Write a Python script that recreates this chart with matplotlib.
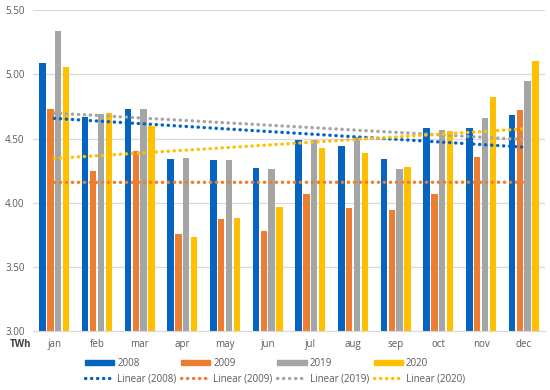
import numpy as np
import matplotlib
matplotlib.use('Agg')
import matplotlib.pyplot as plt
from matplotlib.lines import Line2D
from matplotlib.patches import Patch

# monthly values, TWh
months = ['jan', 'feb', 'mar', 'apr', 'may', 'jun', 'jul', 'aug', 'sep', 'oct', 'nov', 'dec']
y2008 = [5.09, 4.67, 4.73, 4.34, 4.33, 4.27, 4.49, 4.44, 4.34, 4.58, 4.58, 4.68]
y2009 = [4.73, 4.25, 4.40, 3.76, 3.87, 3.78, 4.07, 3.96, 3.94, 4.07, 4.36, 4.72]
y2019 = [5.34, 4.69, 4.73, 4.35, 4.33, 4.26, 4.49, 4.51, 4.26, 4.57, 4.66, 4.95]
y2020 = [5.06, 4.70, 4.60, 3.73, 3.88, 3.97, 4.43, 4.39, 4.28, 4.56, 4.82, 5.10]
years = ['2008', '2009', '2019', '2020']

plt.rcParams['font.family'] = ['Open Sans', 'DejaVu Sans']
colors = ['#0563C1', '#ED7D31', '#A5A5A5', '#FFC000']
series = [y2008, y2009, y2019, y2020]

fig = plt.figure(figsize=(5.5, 3.9), dpi=100)
ax = fig.add_axes([0.06, 0.151, 0.931, 0.823])

x = np.arange(len(months))
step = 0.183
width = 0.15
for i, (vals, c) in enumerate(zip(series, colors)):
    ax.bar(x + (i - 1.5) * step, vals, width=width, color=c, zorder=2)

# linear trend lines
dots = (0, (0.1, 1.7))
for vals, c in zip(series, colors):
    k, b = np.polyfit(x, vals, 1)
    ax.plot(x, k * x + b, color=c, lw=2.4, linestyle=dots,
            dash_capstyle='round', zorder=3)

ax.set_ylim(3.0, 5.5)
ax.set_xlim(-0.5, 11.5)
ax.set_yticks(np.arange(3.0, 5.51, 0.5))
ax.yaxis.set_major_formatter(matplotlib.ticker.FormatStrFormatter('%.2f'))
ax.set_xticks(x)
ax.set_xticklabels(months)
ax.tick_params(length=0, labelsize=7, colors='#595959', pad=6)
ax.grid(axis='y', color='#D9D9D9', lw=0.9, zorder=0)
for s in ['top', 'right', 'left']:
    ax.spines[s].set_visible(False)
ax.spines['bottom'].set_color('#D9D9D9')

fig.text(0.018, 0.11, 'TWh', fontsize=7, fontweight='bold', color='#404040')

handles = []
labels = []
for y, c in zip(years, colors):
    handles.append(Patch(color=c))
    labels.append(y)
    handles.append(Line2D([], [], color=c, lw=2.4, linestyle=dots,
                          dash_capstyle='round'))
    labels.append('Linear (%s)' % y)
fig.legend(handles, labels, ncol=4, loc='center', bbox_to_anchor=(0.5, 0.048),
           frameon=False, fontsize=7, handlelength=3.0, handleheight=0.5,
           columnspacing=0.5, handletextpad=0.3, labelspacing=0.45,
           labelcolor='#595959')

fig.savefig('out.png', dpi=100)
